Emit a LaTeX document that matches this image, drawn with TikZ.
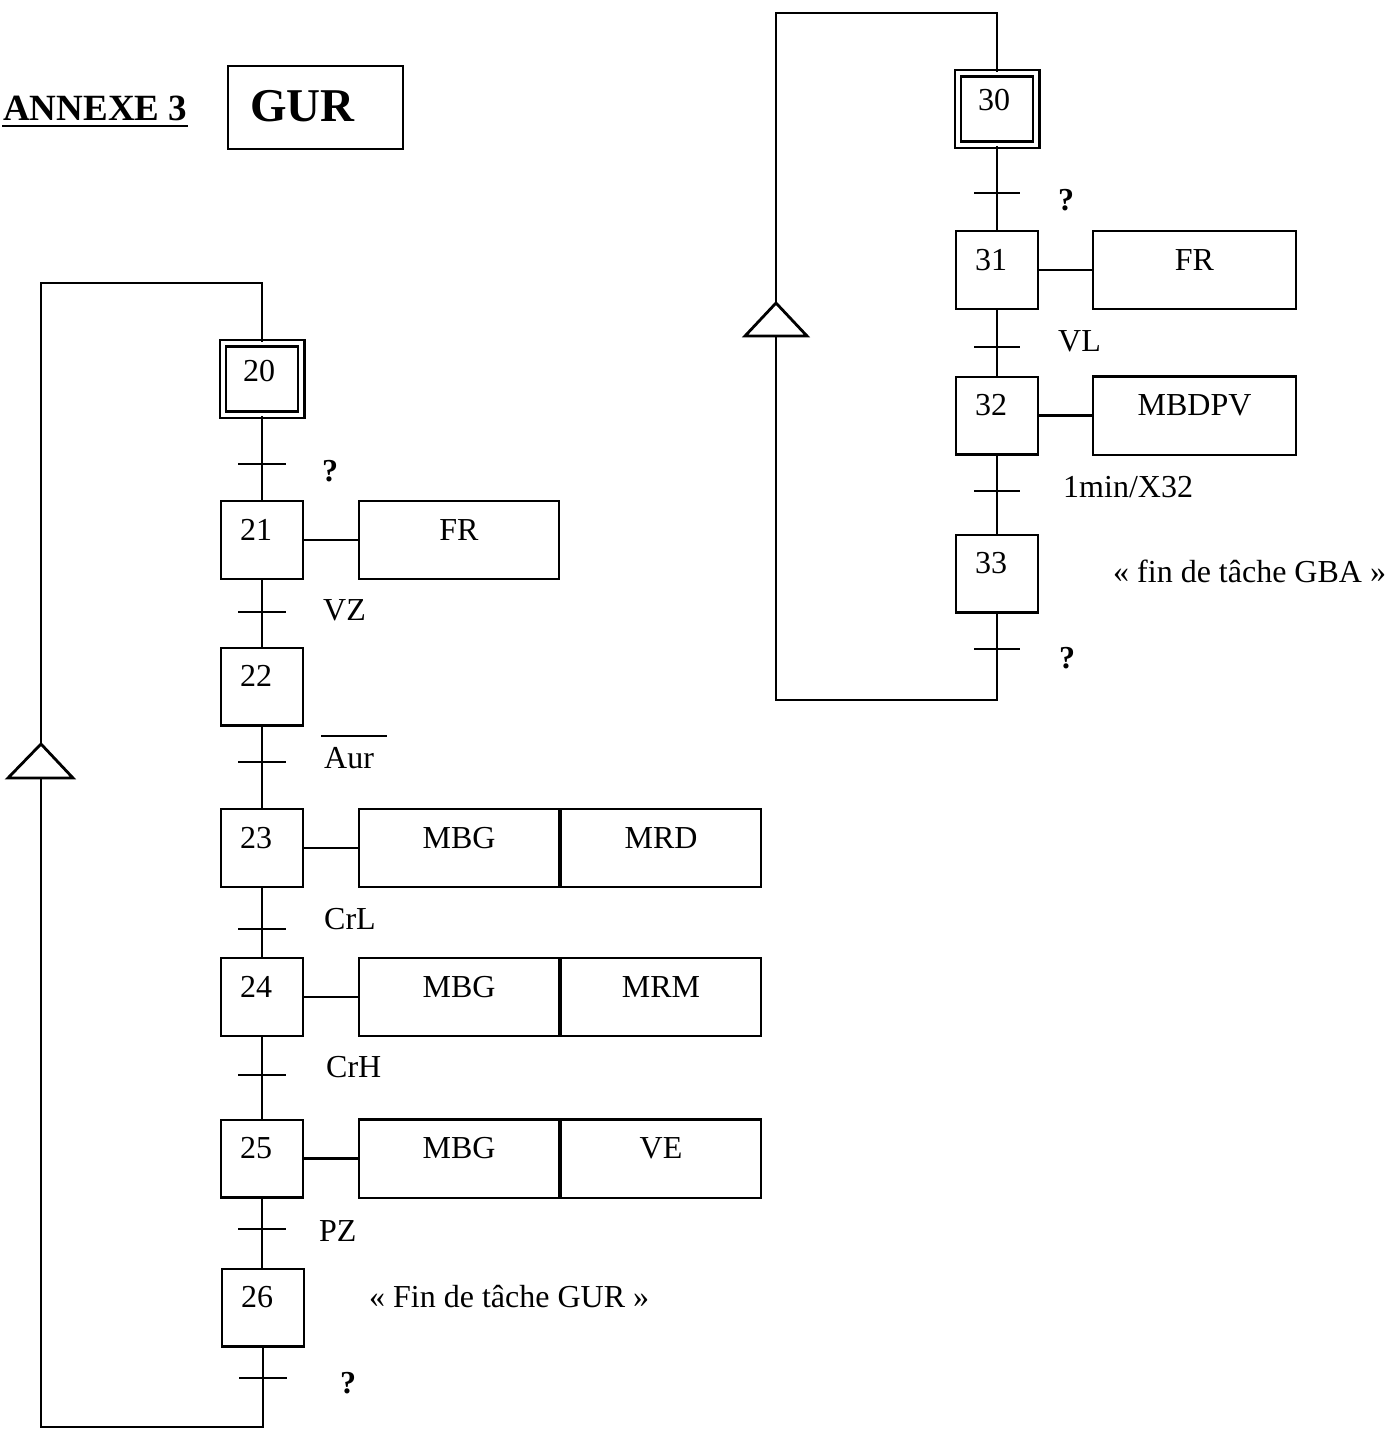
\documentclass[tikz,border=0pt]{standalone}
\usepackage{fontspec}
\setmainfont{Liberation Serif}
\usetikzlibrary{calc}
\newcommand\stnum[1]{\smash{#1\kern6pt}}
\newcommand\initnum[1]{\raisebox{-1pt}[0pt][0pt]{#1\kern3pt}}
\begin{document}
\begin{tikzpicture}[x=0.5pt,y=-0.5pt, line width=1.2pt,
  every node/.style={font=\fontsize{16}{19}\selectfont},
  stepbox/.style={draw, rectangle, minimum width=40.8pt, minimum height=38.8pt, inner sep=0pt},
  initbox/.style={draw, double, double distance=2pt, minimum width=39.1pt, minimum height=35.6pt, inner sep=0pt},
  actbox/.style={draw, rectangle, minimum width=99.8pt, minimum height=39.2pt, inner sep=0pt},
  lbl/.style={anchor=base west, inner sep=0pt},
  qm/.style={lbl, font=\fontsize{16}{19}\selectfont\bfseries},
  tri/.style={line width=1.4pt, line join=miter}
]
\useasboundingbox (0,0) rectangle (1388,1429);

% header
\node[lbl, font=\fontsize{18.5}{22}\selectfont\bfseries] (annexe) at (2,120) {ANNEXE 3};
\draw[line width=1.3pt] ([yshift=-3pt]annexe.base west) -- ([yshift=-3pt]annexe.base east);
\node[draw, minimum width=87.5pt, minimum height=41.5pt, inner sep=0pt] (gurbox) at (315.5,107.5) {};
\node[lbl, font=\fontsize{23.5}{28}\selectfont\bfseries] (gur) at (249,122) {GUR};

% ---------- left grafcet ----------
\node[initbox] (s20) at (262,379) {\initnum{20}};
\node[stepbox] (s21) at (262,540) {\stnum{21}};
\node[stepbox] (s22) at (262,686.5) {\stnum{22}};
\node[stepbox] (s23) at (262,848) {\stnum{23}};
\node[stepbox] (s24) at (262,997) {\stnum{24}};
\node[stepbox] (s25) at (262,1158.5) {\stnum{25}};
\node[stepbox] (s26) at (263,1307.5) {\stnum{26}};

\node[actbox] (a21) at (459,540) {\smash{FR}};
\node[actbox] (a23) at (459,848) {\smash{MBG}};
\node[actbox, anchor=west] (a23b) at (a23.east) {\smash{MRD}};
\node[actbox] (a24) at (459,997) {\smash{MBG}};
\node[actbox, anchor=west] (a24b) at (a24.east) {\smash{MRM}};
\node[actbox] (a25) at (459,1158.5) {\smash{MBG}};
\node[actbox, anchor=west] (a25b) at (a25.east) {\smash{VE}};

\draw (s21) -- (a21);
\draw (s23) -- (a23);
\draw (s24) -- (a24);
\draw (s25) -- (a25);

\draw (s20) -- (s21) -- (s22) -- (s23) -- (s24) -- (s25);
\draw (s25.south) -- (s26.north -| s25.south);

\coordinate (t1) at (262,464);
\coordinate (t2) at (262,612);
\coordinate (t3) at (262,762);
\coordinate (t4) at (262,929);
\coordinate (t5) at (262,1075);
\coordinate (t6) at (262,1229);
\coordinate (t7) at (263,1378);
\foreach \t in {t1,t2,t3,t4,t5,t6,t7}
  \draw ([xshift=-12pt]\t) -- ([xshift=12pt]\t);

\node[qm] (c1) at (321,481) {?};
\node[lbl] (c2) at (322,620) {VZ};
\node[lbl] (c3) at (323,768) {Aur};
\draw ($(c3.base west)+(-2,-32)$) -- ++(66,0);
\node[lbl] (c4) at (323,929) {CrL};
\node[lbl] (c5) at (325,1077) {CrH};
\node[lbl] (c6) at (318,1241) {PZ};
\node[qm] (c7) at (339,1393) {?};
\node[lbl] (fin1) at (368,1307) {« Fin de tâche GUR »};

% left loop
\coordinate (Lbot) at (263,1427);
\coordinate (Lbl) at (41,1427);
\coordinate (Ltb) at (41,778);
\coordinate (Lta) at (41,744);
\coordinate (Ltl) at (41,283);
\coordinate (Ltr) at (262,283);
\draw (s26) -- (Lbot) -- (Lbl) -- (Ltb);
\draw (Lta) -- (Ltl) -- (Ltr) -- (s20);
\draw[tri] (Lta) -- ([xshift=-16.5pt]Ltb) -- ([xshift=16pt]Ltb) -- cycle;

% ---------- right grafcet ----------
\node[initbox] (s30) at (997,109) {\initnum{30}};
\node[stepbox] (s31) at (997,270) {\stnum{31}};
\node[stepbox] (s32) at (997,415.5) {\stnum{32}};
\node[stepbox] (s33) at (997,573.5) {\stnum{33}};

\node[actbox, minimum width=101.5pt] (a31) at (1194.5,270) {\smash{FR}};
\node[actbox, minimum width=101.5pt] (a32) at (1194.5,415.5) {\smash{MBDPV}};
\draw (s31) -- (a31);
\draw (s32) -- (a32);

\draw (s30) -- (s31) -- (s32) -- (s33);

\coordinate (u1) at (997,193);
\coordinate (u2) at (997,347);
\coordinate (u3) at (997,491);
\coordinate (u4) at (997,649);
\foreach \t in {u1,u2,u3,u4}
  \draw ([xshift=-11.5pt]\t) -- ([xshift=11.5pt]\t);

\node[qm] (d1) at (1057,210) {?};
\node[lbl] (d2) at (1057,351) {VL};
\node[lbl] (d3) at (1062,497) {1min/X32};
\node[qm] (d4) at (1058,668) {?};
\node[lbl] (fin2) at (1112,582) {« fin de tâche GBA »};

% right loop
\coordinate (Rbot) at (997,700);
\coordinate (Rbl) at (776,700);
\coordinate (Rtb) at (776,336);
\coordinate (Rta) at (776,303);
\coordinate (Rtl) at (776,13);
\coordinate (Rtr) at (997,13);
\draw (s33) -- (Rbot) -- (Rbl) -- (Rtb);
\draw (Rta) -- (Rtl) -- (Rtr) -- (s30);
\draw[tri] (Rta) -- ([xshift=-15.5pt]Rtb) -- ([xshift=15.5pt]Rtb) -- cycle;
\end{tikzpicture}
\end{document}
